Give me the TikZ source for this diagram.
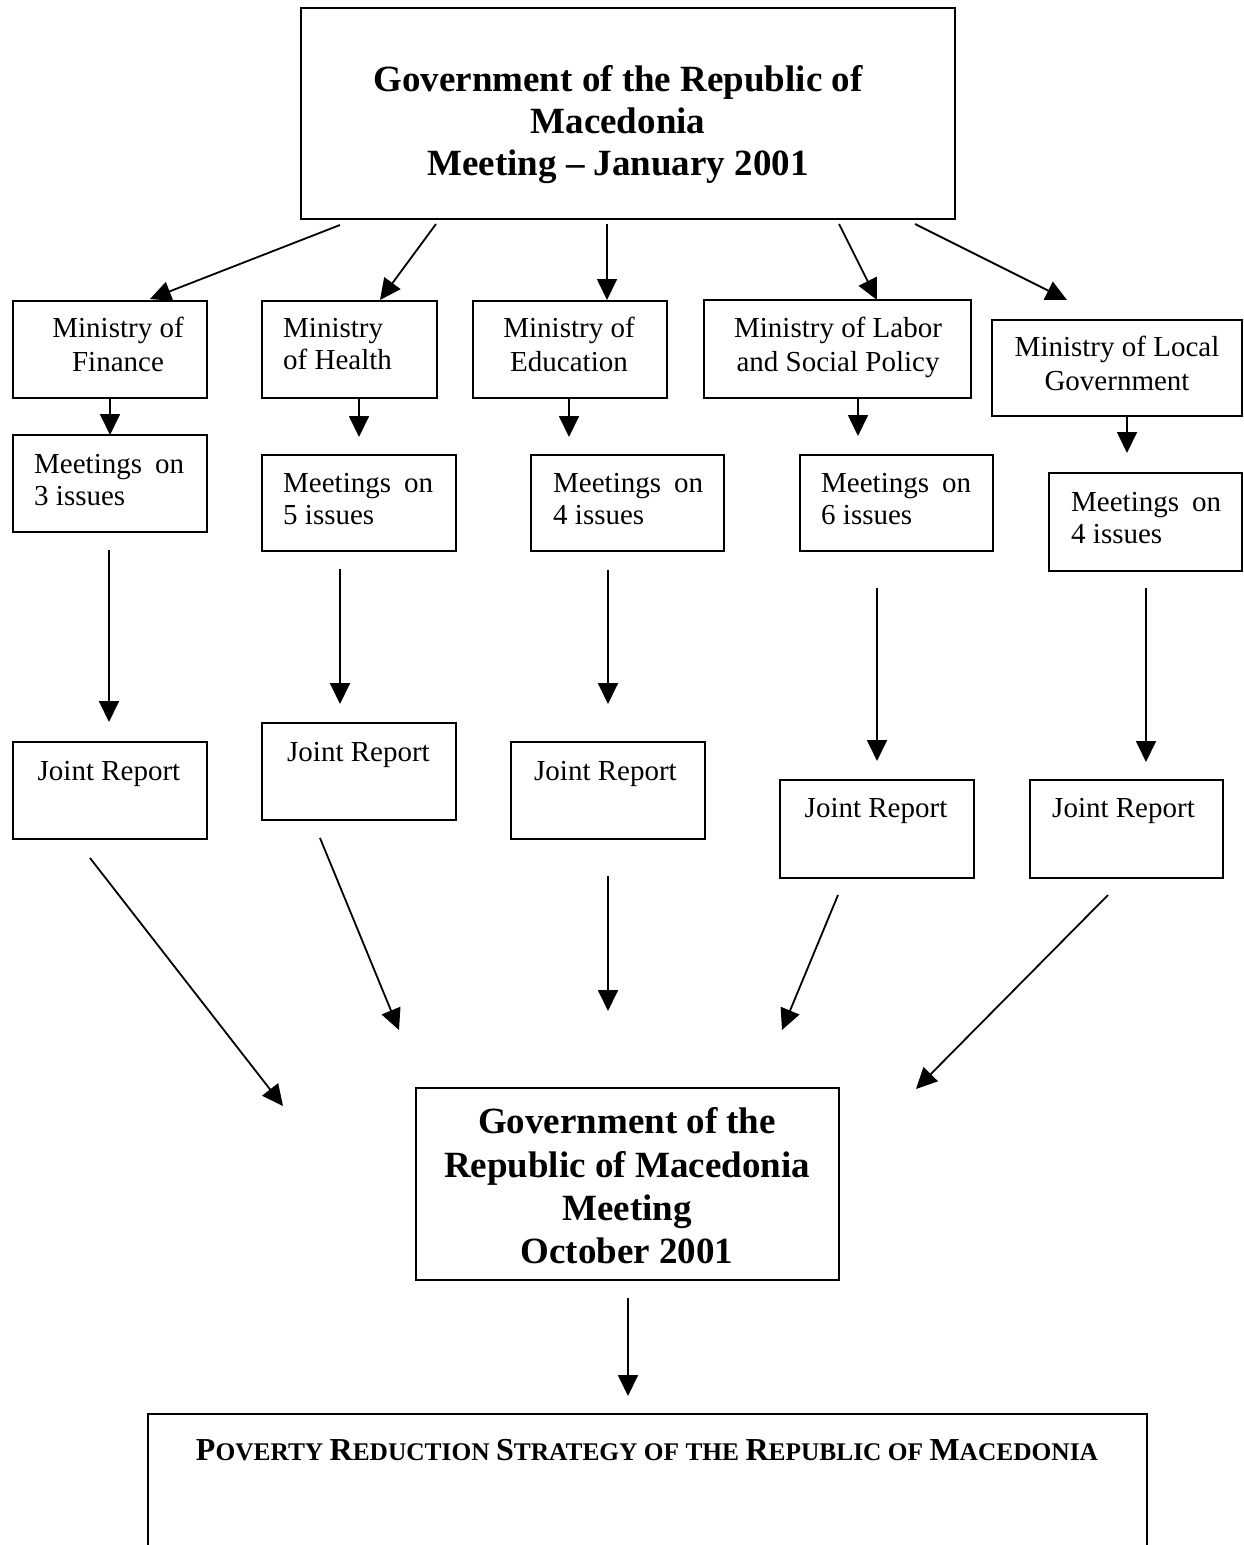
\documentclass[tikz,border=0pt]{standalone}
\usepackage{fontspec}
\setmainfont{Liberation Serif}
\usetikzlibrary{arrows.meta}
\newcommand\scbig[1]{{\fontsize{32}{32}\selectfont #1}}
\tikzset{
  box/.style={draw, line width=2pt, rectangle, inner sep=0pt},
  arr/.style={line width=1.8pt, -{Triangle[length=21pt,width=20pt]}},
  ctxt/.style={font=\fontsize{29}{34}\selectfont, inner sep=0pt, align=center},
  ltxt/.style={font=\fontsize{29}{32}\selectfont, inner sep=0pt, align=left, anchor=west},
  htxt/.style={font=\fontsize{37}{42}\selectfont\bfseries, inner sep=0pt, align=center},
}
\begin{document}
\begin{tikzpicture}[x=1pt,y=-1pt]
\fill[white, use as bounding box] (0,0) rectangle (1243,1545);

% top box
\node[box, minimum width=654pt, minimum height=211pt] (top) at (628,113.5) {};
\node[htxt] (toptxt) at (618,125) {\strut Government of the Republic of\\\strut Macedonia\\\strut Meeting -- January 2001};

% ministries
\node[box, minimum width=194pt, minimum height=97pt] (minfin) at (110,349.5) {};
\node[box, minimum width=175pt, minimum height=97pt] (minhea) at (349.5,349.5) {};
\node[box, minimum width=194pt, minimum height=97pt] (minedu) at (570,349.5) {};
\node[box, minimum width=267pt, minimum height=98pt] (minlab) at (837.5,349) {};
\node[box, minimum width=250pt, minimum height=96pt] (minloc) at (1117,368) {};
\node[ctxt] (tminfin) at (118,348) {\strut Ministry of\\\strut Finance};
\node[ltxt, align=left] (tminhea) at (283,347.5) {\strut Ministry\\\strut of Health};
\node[ctxt] (tminedu) at (569,348) {\strut Ministry of\\\strut Education};
\node[ctxt] (tminlab) at (838,348) {\strut Ministry of Labor\\\strut and Social Policy};
\node[ctxt] (tminloc) at (1117,367) {\strut Ministry of Local\\\strut Government};

% meetings
\node[box, minimum width=194pt, minimum height=97pt] (metfin) at (110,483.5) {};
\node[box, minimum width=194pt, minimum height=96pt] (methea) at (359,503) {};
\node[box, minimum width=193pt, minimum height=96pt] (metedu) at (627.5,503) {};
\node[box, minimum width=193pt, minimum height=96pt] (metlab) at (896.5,503) {};
\node[box, minimum width=193pt, minimum height=98pt] (metloc) at (1145.5,522) {};
\node[ltxt] (tmetfin) at (34,483) {\strut Meetings\hspace{13pt}on\\\strut 3 issues};
\node[ltxt] (tmethea) at (283,502) {\strut Meetings\hspace{13pt}on\\\strut 5 issues};
\node[ltxt] (tmetedu) at (553,502) {\strut Meetings\hspace{13pt}on\\\strut 4 issues};
\node[ltxt] (tmetlab) at (821,502) {\strut Meetings\hspace{13pt}on\\\strut 6 issues};
\node[ltxt] (tmetloc) at (1071,521) {\strut Meetings\hspace{13pt}on\\\strut 4 issues};

% joint reports
\node[box, minimum width=194pt, minimum height=97pt] (jr1) at (110,790.5) {};
\node[box, minimum width=194pt, minimum height=97pt] (jr2) at (359,771.5) {};
\node[box, minimum width=194pt, minimum height=97pt] (jr3) at (608,790.5) {};
\node[box, minimum width=194pt, minimum height=98pt] (jr4) at (877,829) {};
\node[box, minimum width=193pt, minimum height=98pt] (jr5) at (1126.5,829) {};
\node[ctxt] (tjr1) at (109,774) {\strut Joint Report};
\node[ctxt] (tjr2) at (358.5,755) {\strut Joint Report};
\node[ctxt] (tjr3) at (605.5,774) {\strut Joint Report};
\node[ctxt] (tjr4) at (876,811) {\strut Joint Report};
\node[ctxt] (tjr5) at (1123.5,811) {\strut Joint Report};

% october meeting
\node[box, minimum width=423pt, minimum height=192pt] (mid) at (627.5,1184) {};
\node[htxt, font=\fontsize{37}{43.3}\selectfont\bfseries] (midtxt) at (627,1190) {\strut Government of the\\\strut Republic of Macedonia\\\strut Meeting\\\strut October 2001};

% strategy box (open at the bottom, cut by the page)
\node[box, minimum width=999pt, minimum height=200pt] (prs) at (647.5,1514) {};
\node[inner sep=0pt, anchor=base, font=\fontsize{25.4}{25.4}\selectfont\bfseries] (prstxt) at (647,1460)
  {\scbig{P}OVERTY \scbig{R}EDUCTION \scbig{S}TRATEGY OF THE \scbig{R}EPUBLIC OF \scbig{M}ACEDONIA};

% arrow end points
\coordinate (a1s) at (340,225);   \coordinate (a1e) at (150,299);
\coordinate (a2s) at (436,224);   \coordinate (a2e) at (380,300);
\coordinate (a3s) at (607,224);   \coordinate (a3e) at (607,300);
\coordinate (a4s) at (839,224);   \coordinate (a4e) at (877,300);
\coordinate (a5s) at (915,224);   \coordinate (a5e) at (1067,300);

\coordinate (b1s) at (110,399);   \coordinate (b1e) at (110,435);
\coordinate (b2s) at (359,399);   \coordinate (b2e) at (359,437);
\coordinate (b3s) at (569,399);   \coordinate (b3e) at (569,437);
\coordinate (b4s) at (858,398);   \coordinate (b4e) at (858,436);
\coordinate (b5s) at (1127,416);  \coordinate (b5e) at (1127,453);

\coordinate (c1s) at (109,550);   \coordinate (c1e) at (109,722);
\coordinate (c2s) at (340,569);   \coordinate (c2e) at (340,704);
\coordinate (c3s) at (608,570);   \coordinate (c3e) at (608,704);
\coordinate (c4s) at (877,588);   \coordinate (c4e) at (877,761);
\coordinate (c5s) at (1146,588);  \coordinate (c5e) at (1146,762);

\coordinate (d1s) at (90,858);    \coordinate (d1e) at (283,1106);
\coordinate (d2s) at (320,838);   \coordinate (d2e) at (399,1030);
\coordinate (d3s) at (608,876);   \coordinate (d3e) at (608,1011);
\coordinate (d4s) at (838,895);   \coordinate (d4e) at (782,1030);
\coordinate (d5s) at (1108,895);  \coordinate (d5e) at (916,1089);

\coordinate (e1s) at (628,1298);  \coordinate (e1e) at (628,1396);

\foreach \a in {a1,a2,a3,a4,a5,b1,b2,b3,b4,b5,c1,c2,c3,c4,c5,d1,d2,d3,d4,d5,e1}
  \draw[arr] (\a s) -- (\a e);
\end{tikzpicture}
\end{document}
